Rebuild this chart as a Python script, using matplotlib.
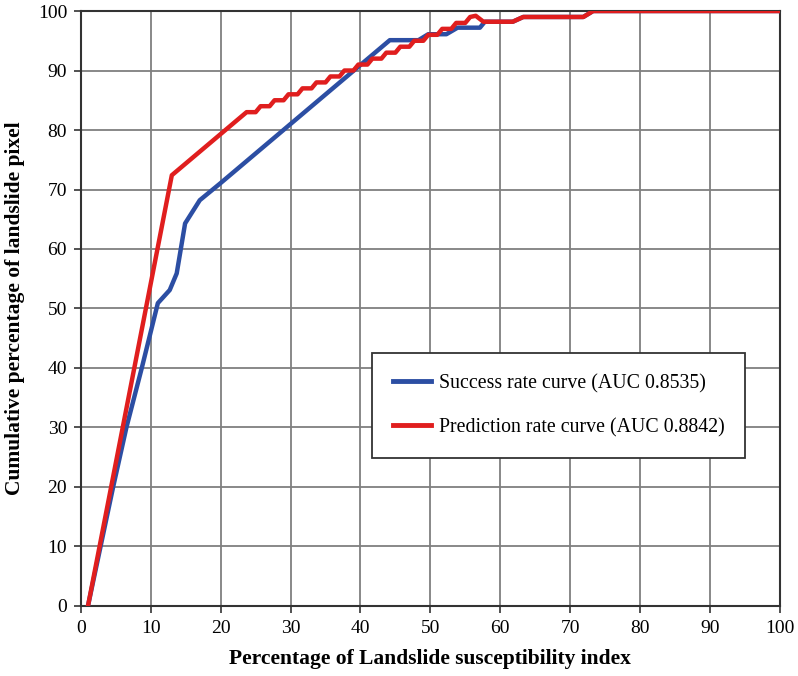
import matplotlib.pyplot as plt

plt.rcParams['font.family'] = ['Liberation Serif', 'DejaVu Serif']

# success rate curve (training landslides)
success_x = [1, 4.6, 6.5, 8.7, 11.0, 12.7, 13.7, 14.9, 17.0, 19.9, 44.2, 48.3, 49.7,
             52.3, 53.9, 57.1, 57.8, 61.8, 63.3, 71.9, 73.3, 100]
success_y = [0, 20, 30, 40, 50.9, 53.1, 55.9, 64.3, 68.2, 71.0, 95.1, 95.1, 96.1,
             96.1, 97.2, 97.2, 98.2, 98.2, 99.0, 99.0, 100, 100]

# prediction rate curve (validation landslides)
predict_x = [1, 13.0, 23.7, 25.0, 25.7, 27.0, 27.7, 29.0, 29.7, 31.0, 31.7, 33.0, 33.7,
             35.0, 35.7, 37.0, 37.7, 39.0, 39.7, 41.0, 41.7, 43.0, 43.7, 45.0, 45.7,
             47.0, 47.7, 49.0, 49.7, 51.0, 51.7, 53.0, 53.7, 55.0, 55.7, 56.5, 57.6,
             61.8, 63.3, 71.9, 73.3, 100]
predict_y = [0, 72.4, 83, 83, 84, 84, 85, 85, 86, 86, 87, 87, 88,
             88, 89, 89, 90, 90, 91, 91, 92, 92, 93, 93, 94,
             94, 95, 95, 96, 96, 97, 97, 98, 98, 99, 99.2, 98.2,
             98.2, 99, 99, 100, 100]

ticks = list(range(0, 101, 10))

fig = plt.figure(figsize=(7.98, 6.76), dpi=100)
ax = fig.add_axes([0.1015, 0.1036, 0.8755, 0.8801])

ax.plot(success_x, success_y, color='#2c4ea3', lw=3.2, solid_joinstyle='round',
        label='Success rate curve (AUC 0.8535)', zorder=3)
ax.plot(predict_x, predict_y, color='#e01e1e', lw=3.2, solid_joinstyle='round',
        label='Prediction rate curve (AUC 0.8842)', zorder=4)

ax.set_xlim(0, 100)
ax.set_ylim(0, 100)
ax.set_xticks(ticks)
ax.set_yticks(ticks)
ax.grid(True, color='#7f7f7f', lw=1.3)
ax.set_axisbelow(True)
for side in ['left', 'bottom', 'top', 'right']:
    ax.spines[side].set_color('#333333')
    ax.spines[side].set_linewidth(1.5)
ax.tick_params(direction='out', length=5, width=1.2, color='#333333',
               labelsize=14, pad=5)

ax.set_xlabel('Percentage of Landslide susceptibility index', fontsize=15.5,
              fontweight='bold', labelpad=9)
ax.set_ylabel('Cumulative percentage of landslide pixel', fontsize=15.5,
              fontweight='bold', labelpad=9)

leg = ax.legend(loc='center', bbox_to_anchor=(0.684, 0.337), fontsize=14.3,
                fancybox=False, framealpha=1, edgecolor='#333333',
                borderpad=1.05, labelspacing=1.25, handlelength=1.9,
                handletextpad=0.4, borderaxespad=0)
leg.get_frame().set_linewidth(1.3)
for line in leg.get_lines():
    line.set_linewidth(3.5)

fig.savefig('out.png', dpi=100)
